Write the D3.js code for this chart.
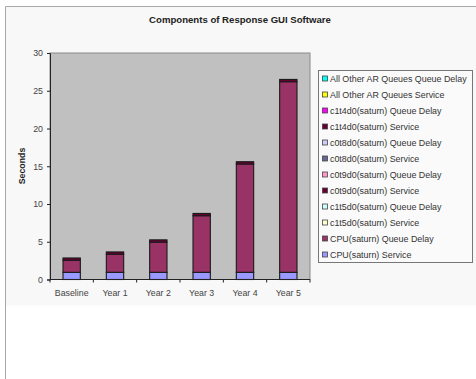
<!DOCTYPE html>
<html>
<head>
<meta charset="utf-8">
<script src="https://cdn.jsdelivr.net/npm/d3@7/dist/d3.min.js"></script>
<style>
    body { margin: 0; background: #fff; }
    svg { display: block; font-family: "Liberation Sans", Arial, sans-serif; }
</style>
</head>
<body>
<svg id="chart" width="476" height="379"></svg>
<script>
// categories on the x axis
let categories = ['Baseline', 'Year 1', 'Year 2', 'Year 3', 'Year 4', 'Year 5'];

// series in stacking order (bottom first)
let seriesNames = [
    'CPU(saturn) Service',
    'CPU(saturn) Queue Delay',
    'c1t5d0(saturn) Service',
    'c1t5d0(saturn) Queue Delay',
    'c0t9d0(saturn) Service',
    'c0t9d0(saturn) Queue Delay',
    'c0t8d0(saturn) Service',
    'c0t8d0(saturn) Queue Delay',
    'c1t4d0(saturn) Service',
    'c1t4d0(saturn) Queue Delay',
    'All Other AR Queues Service',
    'All Other AR Queues Queue Delay'
];
let seriesColors = ['#9999ff', '#993366', '#ffffcc', '#ccffff', '#660033', '#ff99cc',
    '#666699', '#ccccff', '#660033', '#ff00ff', '#ffff00', '#00ffff'];

// values (seconds) per series, one per category
let cpuService = [0.95, 0.95, 0.95, 0.95, 0.95, 0.95];
let cpuQueueDelay = [1.6, 2.4, 4.0, 7.5, 14.35, 25.25];
let c1t5d0Service = [0, 0, 0, 0, 0, 0];
let c1t5d0QueueDelay = [0, 0, 0, 0, 0, 0];
let c0t9d0Service = [0.3, 0.3, 0.3, 0.3, 0.3, 0.3];
let c0t9d0QueueDelay = [0, 0, 0, 0, 0, 0];
let c0t8d0Service = [0, 0, 0, 0, 0, 0];
let c0t8d0QueueDelay = [0, 0, 0, 0, 0, 0];
let c1t4d0Service = [0, 0, 0, 0, 0, 0];
let c1t4d0QueueDelay = [0, 0, 0, 0, 0, 0];
let otherService = [0, 0, 0, 0, 0, 0];
let otherQueueDelay = [0, 0, 0, 0, 0, 0];

let seriesValues = [cpuService, cpuQueueDelay, c1t5d0Service, c1t5d0QueueDelay,
    c0t9d0Service, c0t9d0QueueDelay, c0t8d0Service, c0t8d0QueueDelay,
    c1t4d0Service, c1t4d0QueueDelay, otherService, otherQueueDelay];

let yTicks = [0, 5, 10, 15, 20, 25, 30];

function draw_chart() {
    let svg = d3.select('#chart');

    // chart area background + outer border
    svg.append('rect')
        .attr('x', 5.5).attr('y', 6.5)
        .attr('width', 480).attr('height', 299)
        .attr('fill', '#f8f8f8');
    svg.append('path')
        .attr('d', 'M5.5,379 V6.5 H476')
        .attr('fill', 'none')
        .attr('stroke', '#a8a8a8')
        .attr('stroke-width', 1);

    // title
    svg.append('text')
        .attr('x', 240).attr('y', 23)
        .attr('text-anchor', 'middle')
        .style('font-size', '9.6px')
        .style('font-weight', 'bold')
        .attr('fill', '#222')
        .text('Components of Response GUI Software');

    let plot = {left: 50, top: 53, right: 310, bottom: 279.5};

    let x = d3.scaleBand()
        .domain(categories)
        .range([plot.left, plot.right])
        .paddingInner(0.6)
        .paddingOuter(0.3);

    let y = d3.scaleLinear()
        .domain([0, 30])
        .range([plot.bottom, plot.top]);

    // plot area
    svg.append('rect')
        .attr('x', plot.left).attr('y', plot.top)
        .attr('width', plot.right - plot.left)
        .attr('height', plot.bottom - plot.top)
        .attr('fill', '#c0c0c0')
        .attr('stroke', '#8a8a8a')
        .attr('stroke-width', 1);

    // stacked data
    let rows = categories.map(function (c, i) {
        let row = {category: c};
        seriesNames.forEach(function (s, j) {
            row[s] = seriesValues[j][i];
        });
        return row;
    });
    let stacked = d3.stack().keys(seriesNames)(rows);

    let gBars = svg.append('g');
    gBars.selectAll('g')
        .data(stacked)
        .enter()
        .append('g')
        .attr('fill', (d, i) => seriesColors[i])
        .selectAll('rect')
        .data(d => d.filter(p => p[1] - p[0] > 0))
        .enter()
        .append('rect')
        .attr('x', d => x(d.data.category))
        .attr('y', d => y(d[1]))
        .attr('width', x.bandwidth())
        .attr('height', d => y(d[0]) - y(d[1]))
        .attr('stroke', '#1a1a1a')
        .attr('stroke-width', 1.1);

    // y axis
    let yAxis = svg.append('g')
        .attr('transform', 'translate(' + plot.left + ',0)')
        .call(d3.axisLeft(y).tickValues(yTicks).tickSize(3).tickPadding(4));
    yAxis.select('.domain').attr('stroke', '#222');
    yAxis.selectAll('line').attr('stroke', '#222');
    yAxis.selectAll('text')
        .style('font-size', '8.8px')
        .attr('fill', '#444');

    // x axis
    let xAxis = svg.append('g')
        .attr('transform', 'translate(0,' + plot.bottom + ')');
    xAxis.append('line')
        .attr('x1', plot.left).attr('x2', plot.right)
        .attr('stroke', '#222');
    let step = x.step();
    let bounds = d3.range(categories.length + 1).map(i => plot.left + i * step);
    xAxis.selectAll('.xtick')
        .data(bounds)
        .enter()
        .append('line')
        .attr('x1', d => d).attr('x2', d => d)
        .attr('y1', 0).attr('y2', 3)
        .attr('stroke', '#222');
    xAxis.selectAll('.xlabel')
        .data(categories)
        .enter()
        .append('text')
        .attr('x', d => x(d) + x.bandwidth() / 2)
        .attr('y', 16.5)
        .attr('text-anchor', 'middle')
        .style('font-size', '8.8px')
        .attr('fill', '#444')
        .text(d => d);

    // y axis title
    svg.append('text')
        .attr('transform', 'translate(25,166) rotate(-90)')
        .attr('text-anchor', 'middle')
        .style('font-size', '8.8px')
        .style('font-weight', 'bold')
        .attr('fill', '#222')
        .text('Seconds');

    // legend
    let legend = svg.append('g');
    legend.append('rect')
        .attr('x', 318.5).attr('y', 70.5)
        .attr('width', 154).attr('height', 192)
        .attr('fill', '#fafafa')
        .attr('stroke', '#777')
        .attr('stroke-width', 1);

    let legendOrder = d3.range(seriesNames.length).reverse();
    let items = legend.selectAll('.item')
        .data(legendOrder)
        .enter()
        .append('g')
        .attr('transform', (d, i) => 'translate(322,' + (78.5 + i * 16) + ')');
    items.append('rect')
        .attr('x', 0.5).attr('y', -2.5)
        .attr('width', 5).attr('height', 5)
        .attr('fill', d => seriesColors[d])
        .attr('stroke', '#444')
        .attr('stroke-width', 0.8);
    items.append('text')
        .attr('x', 8)
        .attr('y', 3)
        .style('font-size', '8.9px')
        .attr('fill', '#333')
        .text(d => seriesNames[d]);
}

draw_chart();
</script>
</body>
</html>
